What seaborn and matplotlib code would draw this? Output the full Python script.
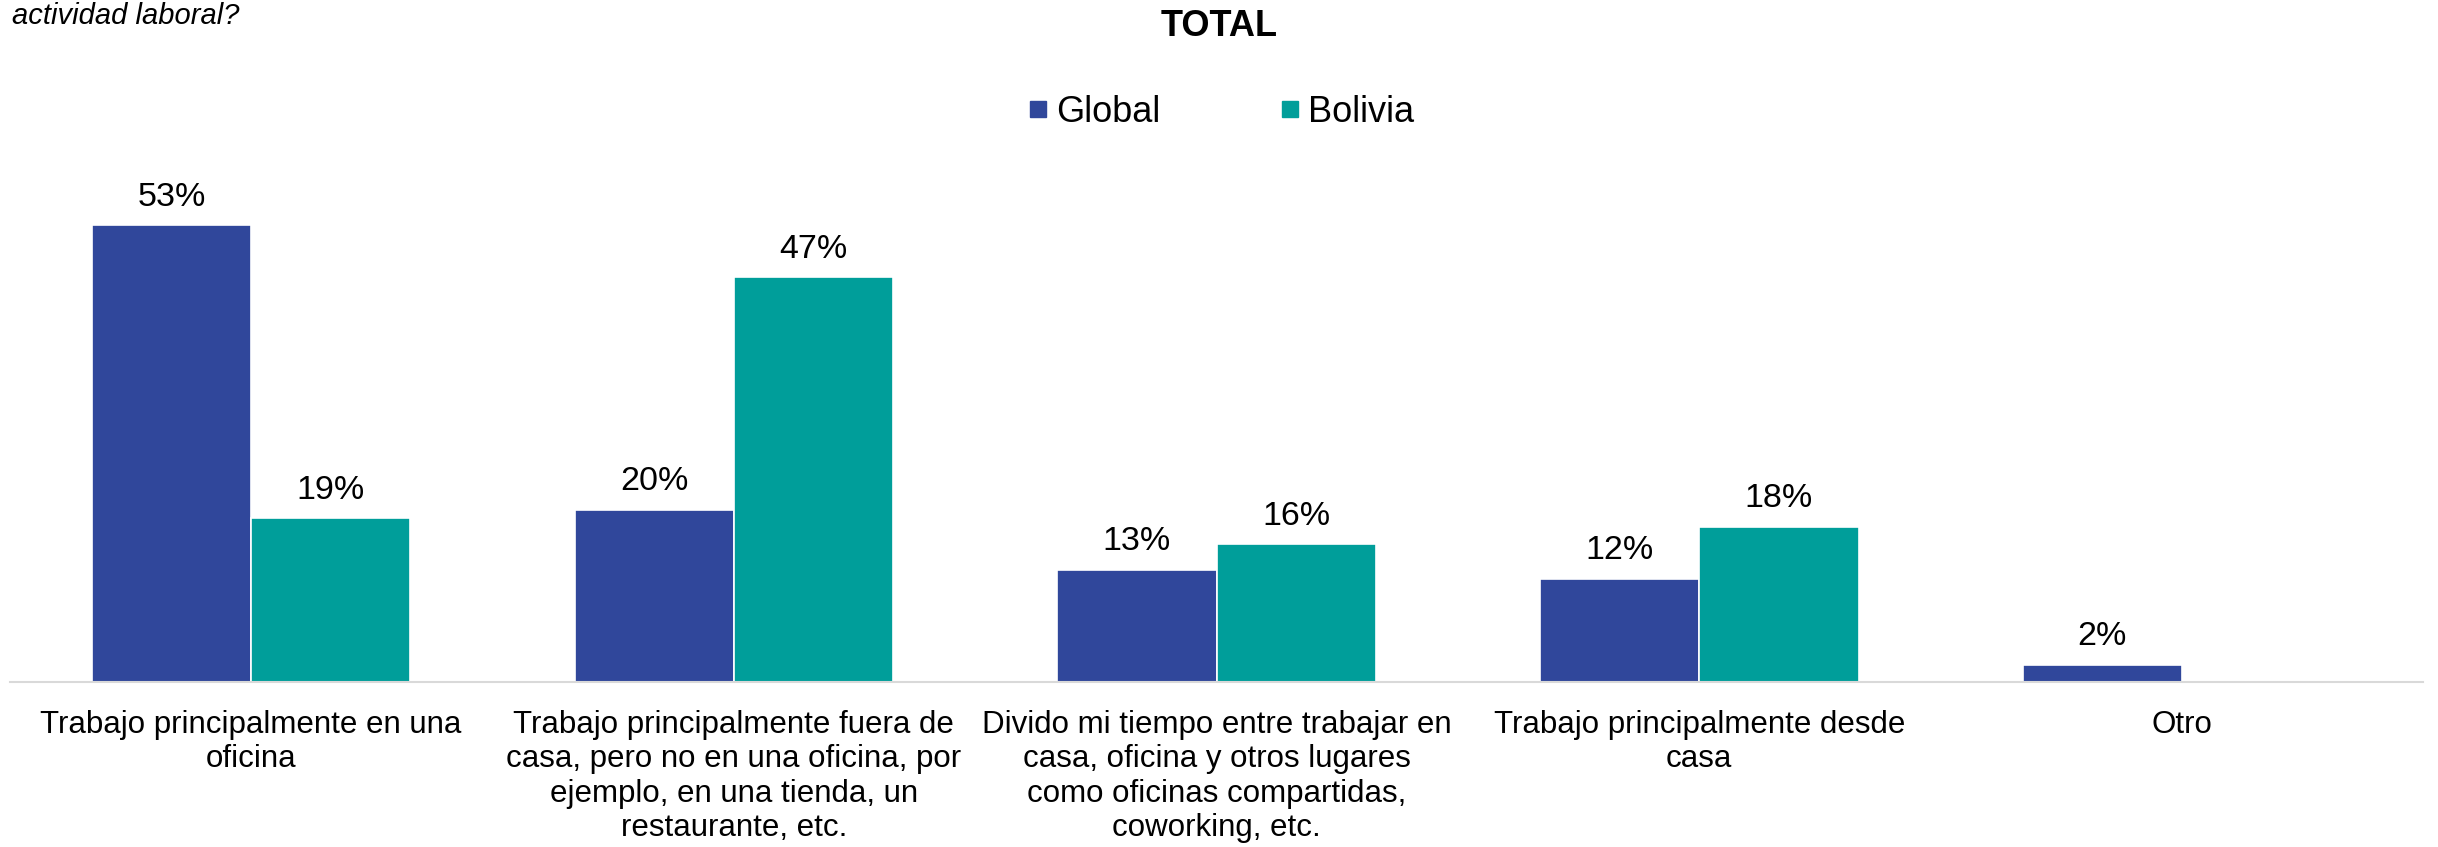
import pandas as pd
import seaborn as sns
import matplotlib.pyplot as plt
from matplotlib.lines import Line2D

categories = [
    "Trabajo principalmente en una\noficina",
    "Trabajo principalmente fuera de\ncasa, pero no en una oficina, por\nejemplo, en una tienda, un\nrestaurante, etc.",
    "Divido mi tiempo entre trabajar en\ncasa, oficina y otros lugares\ncomo oficinas compartidas,\ncoworking, etc.",
    "Trabajo principalmente desde\ncasa",
    "Otro",
]
global_vals = [53, 20, 13, 12, 2]
bolivia_vals = [19, 47, 16, 18, None]
series = ["Global", "Bolivia"]
colors = ["#30479B", "#009E9A"]

df = pd.DataFrame({
    "cat": categories * 2,
    "serie": ["Global"] * 5 + ["Bolivia"] * 5,
    "valor": global_vals + bolivia_vals,
}).dropna()

sns.set_theme(style="white")
plt.rcParams["font.family"] = ["Liberation Sans", "DejaVu Sans"]
plt.rcParams["text.color"] = "black"
plt.rcParams["xtick.color"] = "black"
plt.rcParams["xtick.labelcolor"] = "black"

fig = plt.figure(figsize=(24.38, 8.47), dpi=100)
ax = fig.add_axes([0.004, 0.195, 0.99, 0.61])

sns.barplot(data=df, x="cat", y="valor", hue="serie", order=categories,
            hue_order=series, palette=colors, width=0.66, saturation=1,
            edgecolor="white", linewidth=1.2, legend=False, ax=ax)

for c in ax.containers:
    ax.bar_label(c, fmt="%.0f%%", padding=9, fontsize=24.5, color="black")

ax.set_xlim(-0.5, 4.5)
ax.set_ylim(0, 60)
ax.set_xlabel("")
ax.set_ylabel("")
ax.set_yticks([])
ax.tick_params(axis="x", length=0, pad=20, labelsize=22.5, labelcolor="black")
for s in ["top", "right", "left"]:
    ax.spines[s].set_visible(False)
ax.spines["bottom"].set_color("#D9D9D9")
ax.spines["bottom"].set_linewidth(1.5)

fig.text(0.5, 1 - 36 / 847, "TOTAL", ha="center", va="baseline",
         fontsize=26, fontweight="bold", color="black")
fig.text(12 / 2438, 1 - 24 / 847, "actividad laboral?", ha="left",
         va="baseline", fontsize=21, style="italic", color="black")

handles = [Line2D([], [], marker="s", linestyle="", markersize=12,
                  markerfacecolor=col, markeredgecolor=col) for col in colors]
leg = fig.legend(handles, series, loc="center", bbox_to_anchor=(0.5, 1 - 112 / 847),
                 ncol=2, frameon=False, fontsize=26, handletextpad=0.1,
                 columnspacing=3.2, handlelength=0.8)
for t in leg.get_texts():
    t.set_color("black")

fig.savefig("out.png", dpi=100)
